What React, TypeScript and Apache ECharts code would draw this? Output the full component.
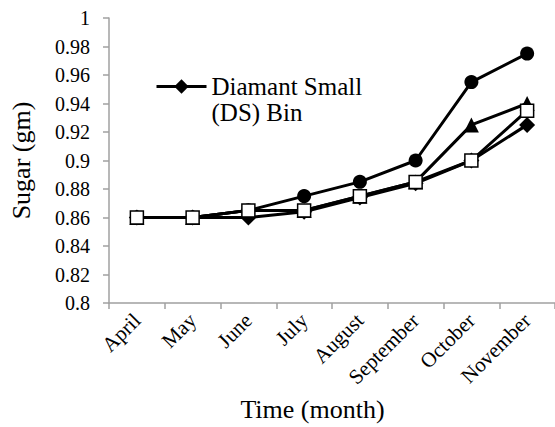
import React, { useEffect, useRef } from "react";
import * as echarts from "echarts";

const months = ["April", "May", "June", "July", "August", "September", "October", "November"];
const circleSeries = [0.86, 0.86, 0.865, 0.875, 0.885, 0.9, 0.955, 0.975];
const triangleSeries = [0.86, 0.86, 0.865, 0.865, 0.875, 0.885, 0.925, 0.94];
const squareSeries = [0.86, 0.86, 0.865, 0.865, 0.875, 0.885, 0.9, 0.935];
const diamondSeries = [0.86, 0.86, 0.86, 0.864, 0.874, 0.884, 0.9, 0.925];
const legendName = "Diamant Small (DS) Bin";

const FONT = "Liberation Serif";

export default function App() {
  const ref = useRef<HTMLDivElement>(null);
  useEffect(() => {
    if (!ref.current) return;
    const chart = echarts.init(ref.current, undefined, { renderer: "svg" });
    const black = "#000";
    const axisGray = "#a0a0a0";
    const base = (name: string, data: number[], symbol: string, size: number, fill: string) => ({
      name,
      type: "line",
      data,
      symbol,
      symbolSize: size,
      showSymbol: true,
      lineStyle: { color: black, width: 3 },
      itemStyle: { color: fill, borderColor: black, borderWidth: fill === "#fff" ? 1.5 : 0 },
      emphasis: { disabled: true },
    });
    chart.setOption({
      animation: false,
      textStyle: { fontFamily: FONT },
      grid: { left: 108, top: 18, width: 453.3, height: 288.7 },
      legend: {
        data: [legendName],
        left: 155,
        top: 48,
        padding: 0,
        itemWidth: 50,
        itemHeight: 18,
        itemGap: 0,
        lineStyle: { width: 3 },
        formatter: () => "{e|}\n{a|Diamant Small}\n{a|(DS) Bin}",
        textStyle: {
          fontFamily: FONT,
          fontSize: 25,
          color: black,
          rich: {
            e: { fontSize: 25, lineHeight: 26, fontFamily: FONT },
            a: { fontSize: 25, lineHeight: 26, fontFamily: FONT, color: black },
          },
        },
      },
      xAxis: {
        type: "category",
        data: months,
        boundaryGap: true,
        name: "Time (month)",
        nameLocation: "middle",
        nameGap: 93,
        nameTextStyle: { fontFamily: FONT, fontSize: 26, color: black, padding: [0, 39, 0, 0] },
        axisLine: { lineStyle: { color: axisGray, width: 1.5 } },
        axisTick: { show: true, length: 6, lineStyle: { color: axisGray, width: 1.5 } },
        axisLabel: { rotate: 45, fontFamily: FONT, fontSize: 21, color: black, margin: 14, interval: 0 },
        splitLine: { show: false },
      },
      yAxis: {
        type: "value",
        min: 0.8,
        max: 1,
        interval: 0.02,
        name: "Sugar (gm)",
        nameLocation: "middle",
        nameGap: 75,
        nameTextStyle: { fontFamily: FONT, fontSize: 26, color: black },
        axisLine: { show: true, lineStyle: { color: axisGray, width: 1.5 } },
        axisTick: { show: true, length: 6, lineStyle: { color: axisGray, width: 1.5 } },
        axisLabel: {
          fontFamily: FONT,
          fontSize: 20,
          color: black,
          margin: 19,
          formatter: (v: number) => String(+v.toFixed(2)),
        },
        splitLine: { show: false },
      },
      series: [
        base(legendName, diamondSeries, "diamond", 16, black),
        base("Series C", circleSeries, "circle", 14, black),
        base("Series T", triangleSeries, "triangle", 15, black),
        base("Series S", squareSeries, "rect", 13, "#fff"),
      ],
    });
    return () => chart.dispose();
  }, []);
  return <div ref={ref} style={{ width: 555, height: 427, position: "absolute", left: 0, top: 0 }} />;
}
